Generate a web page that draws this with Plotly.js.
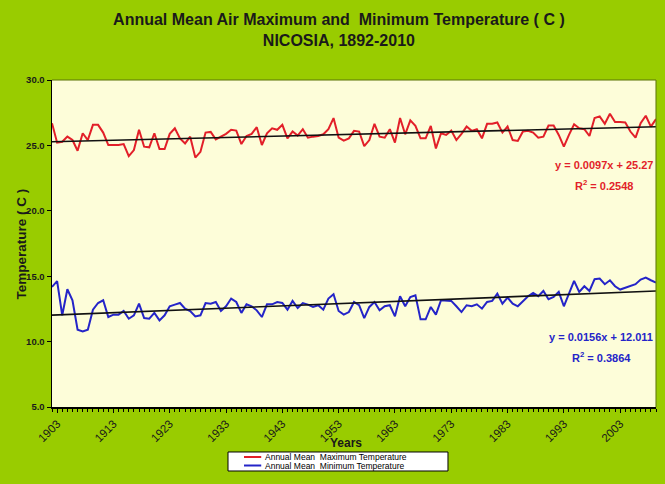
<!DOCTYPE html>
<html>
<head>
<meta charset="utf-8">
<script src="https://cdn.plot.ly/plotly-3.0.1.min.js"></script>
<style>
  html, body { margin: 0; padding: 0; background: #99cc00; }
  #chart { width: 665px; height: 484px; }
</style>
</head>
<body>
<div id="chart"></div>
<script>
// ---- Data ----
const firstYear = 1892;
const lastYear = 2010;
const years = [];
for (let y = firstYear; y <= lastYear; y++) years.push(y);

const maxTemp = [
  26.70, 25.21, 25.28, 25.67, 25.41, 24.59, 25.93, 25.41, 26.57, 26.57,
  25.98, 25.03, 25.03, 25.03, 25.10, 24.18, 24.64, 26.19, 24.90, 24.85,
  25.93, 24.72, 24.72, 25.88, 26.31, 25.54, 25.15, 25.67, 24.07, 24.51,
  25.98, 26.03, 25.46, 25.67, 25.88,
  26.19, 26.13, 25.10, 25.72, 25.88, 26.39, 25.03, 25.93, 26.31, 26.19,
  26.57, 25.54, 26.06, 25.75, 26.24, 25.59, 25.67, 25.72, 25.85, 26.24,
  27.09, 25.59, 25.36, 25.54, 26.11, 26.06, 24.95, 25.41, 26.65, 25.67,
  25.59, 26.24, 25.21, 27.09, 25.85, 26.91, 26.49, 25.54, 25.54, 26.49,
  24.77, 25.93, 25.80,
  26.13, 25.41, 25.88, 26.44, 26.11, 26.24, 25.54, 26.65, 26.65, 26.75,
  25.98, 26.44, 25.41, 25.34, 26.06, 26.11, 25.98, 25.59, 25.67, 26.52,
  26.52, 25.80, 24.90, 25.80, 26.62, 26.31, 26.24, 25.72, 27.09, 27.22,
  26.65, 27.42, 26.78, 26.78, 26.75, 26.06, 25.59, 26.70, 27.27, 26.44,
  27.01
];

const minTemp = [
  14.18, 14.62, 12.01, 14.00, 13.16, 10.91, 10.78, 10.91, 12.44, 12.95,
  13.16, 11.88, 12.06, 12.06, 12.34, 11.75, 12.01, 12.90, 11.80, 11.75,
  12.19, 11.62, 12.01, 12.70, 12.83, 12.95, 12.52, 12.34, 11.93, 12.01,
  12.95, 12.90, 13.03, 12.34, 12.70,
  13.29, 13.03, 12.19, 12.85, 12.70, 12.39, 11.88, 12.85, 12.85, 13.03,
  12.95, 12.44, 13.11, 12.57, 12.95, 12.83, 12.65, 12.78, 12.44, 13.29,
  13.62, 12.34, 12.06, 12.26, 13.03, 12.78, 11.80, 12.65, 13.03, 12.39,
  12.70, 12.78, 11.93, 13.47, 12.70, 13.41, 13.54, 11.70, 11.70, 12.65,
  12.06, 13.16, 13.16,
  13.11, 12.70, 12.26, 12.78, 12.70, 12.85, 12.52, 13.03, 13.11, 13.67,
  12.90, 13.36, 12.90, 12.70, 13.11, 13.47, 13.72, 13.47, 13.87, 13.24,
  13.41, 13.80, 12.70, 13.67, 14.64, 13.80, 14.23, 13.87, 14.77, 14.82,
  14.39, 14.69, 14.23, 13.98, 14.13, 14.26, 14.39, 14.74, 14.90, 14.69,
  14.51
];

// Linear trend equations printed on the chart (x = 1 .. n)
const maxSlope = 0.0097, maxIntercept = 25.27, maxR2 = '0.2548';
const minSlope = 0.0156, minIntercept = 12.011, minR2 = '0.3864';

// Category labels shown on the reference axis
const tickLabels = ['1903','1913','1923','1933','1943','1953','1963','1973','1983','1993','2003'];
const labelEvery = 11, labelOffset = 1;

const seriesNames = ['Annual Mean  Maximum Temperature', 'Annual Mean  Minimum Temperature'];
const xTitle = 'Years';
const yTitle = 'Temperature ( C )';

// ---- Derived ----
const n = years.length;
const trendX = [years[0], years[n - 1]];
const maxTrendY = [maxSlope * 1 + maxIntercept, maxSlope * n + maxIntercept];
const minTrendY = [minSlope * 1 + minIntercept, minSlope * n + minIntercept];
const tickVals = years.filter((_, i) => i % labelEvery === labelOffset).slice(0, tickLabels.length);

const RED = '#e21f29';
const BLUE = '#2424c8';
const SANS = '"Liberation Sans", Arial, sans-serif';
const INK = '#1a1a1a';

const traces = [
  { x: years, y: maxTemp, type: 'scatter', mode: 'lines', name: seriesNames[0],
    line: { color: RED, width: 2 } },
  { x: years, y: minTemp, type: 'scatter', mode: 'lines', name: seriesNames[1],
    line: { color: BLUE, width: 2 } },
  { x: trendX, y: maxTrendY, type: 'scatter', mode: 'lines', hoverinfo: 'skip',
    line: { color: '#111', width: 1.6 } },
  { x: trendX, y: minTrendY, type: 'scatter', mode: 'lines', hoverinfo: 'skip',
    line: { color: '#111', width: 1.6 } }
];

// compact legend box drawn below the axis (paper coordinates)
const lg = { x0: 0.2914, x1: 0.6556, y0: -0.1376, y1: -0.1957,
             sx0: 0.3179, sx1: 0.3464, tx: 0.3493, rows: [-0.1529, -0.1789] };

const ann = (x, y, text, font, extra) => Object.assign(
  { xref: 'paper', yref: 'paper', x, y, xanchor: 'center', yanchor: 'middle', showarrow: false, text, font }, extra || {});

const layout = {
  width: 665, height: 484,
  paper_bgcolor: '#99cc00',
  plot_bgcolor: '#fdfdd9',
  margin: { l: 52, r: 9, t: 80, b: 77, pad: 0 },
  showlegend: false,
  title: {
    text: '<b>Annual Mean Air Maximum and  Minimum Temperature ( C )<br>NICOSIA, 1892-2010</b>',
    font: { family: SANS, size: 16, color: INK },
    x: 0.475, xanchor: 'center', xref: 'paper',
    y: 0.948, yanchor: 'top', yref: 'container'
  },
  xaxis: {
    range: [years[0], years[n - 1]],
    tickmode: 'array', tickvals: tickVals, ticktext: tickLabels,
    tickangle: -45,
    tickfont: { family: SANS, size: 11.5, color: INK },
    ticks: 'outside', ticklen: 4, tickcolor: '#000', tickwidth: 1,
    minor: { tickmode: 'linear', tick0: years[0], dtick: 1, ticks: 'outside', ticklen: 3, tickcolor: '#000', tickwidth: 1, showgrid: false },
    showline: true, linecolor: '#000', linewidth: 1.5,
    showgrid: false, zeroline: false,
    automargin: false,
    fixedrange: true
  },
  yaxis: {
    range: [5, 30], dtick: 5, tick0: 5, tickformat: '.1f',
    tickfont: { family: SANS, size: 9.5, color: INK, weight: 'bold' },
    ticks: 'outside', ticklen: 4, tickcolor: '#000',
    showline: true, linecolor: '#000', linewidth: 1.5,
    showgrid: false, zeroline: false,
    automargin: false,
    fixedrange: true
  },
  annotations: [
    ann(0.487, -0.110, `<b>${xTitle}</b>`, { family: SANS, size: 12, color: INK }),
    ann(-0.0497, 0.5, `<b>${yTitle}</b>`, { family: SANS, size: 13.5, color: INK }, { textangle: -90 }),
    ann(0.914, 0.741, `<b>y = ${maxSlope}x + ${maxIntercept}</b>`, { family: SANS, size: 11, color: RED }),
    ann(0.914, 0.680, `<b>R<sup>2</sup> = ${maxR2}</b>`, { family: SANS, size: 11, color: RED }),
    ann(0.909, 0.214, `<b>y = ${minSlope}x + ${minIntercept}</b>`, { family: SANS, size: 11, color: BLUE }),
    ann(0.909, 0.152, `<b>R<sup>2</sup> = ${minR2}</b>`, { family: SANS, size: 11, color: BLUE }),
    ann(lg.tx, lg.rows[0], seriesNames[0], { family: SANS, size: 8.5, color: '#000' }, { xanchor: 'left' }),
    ann(lg.tx, lg.rows[1], seriesNames[1], { family: SANS, size: 8.5, color: '#000' }, { xanchor: 'left' })
  ],
  shapes: [
    { type: 'line', xref: 'paper', yref: 'paper', x0: 0, x1: 1, y0: 1, y1: 1,
      line: { color: 'rgba(95,120,10,0.7)', width: 1.5 } },
    { type: 'line', xref: 'paper', yref: 'paper', x0: 1, x1: 1, y0: 0, y1: 1,
      line: { color: 'rgba(95,120,10,0.7)', width: 1.5 } },
    { type: 'rect', xref: 'paper', yref: 'paper', x0: lg.x0, x1: lg.x1, y0: lg.y0, y1: lg.y1,
      fillcolor: '#ffffff', line: { color: '#000', width: 1 } },
    { type: 'line', xref: 'paper', yref: 'paper', x0: lg.sx0, x1: lg.sx1, y0: lg.rows[0], y1: lg.rows[0],
      line: { color: RED, width: 2 } },
    { type: 'line', xref: 'paper', yref: 'paper', x0: lg.sx0, x1: lg.sx1, y0: lg.rows[1], y1: lg.rows[1],
      line: { color: BLUE, width: 2 } }
  ]
};

Plotly.newPlot('chart', traces, layout, { displayModeBar: false, staticPlot: true });
</script>
</body>
</html>
